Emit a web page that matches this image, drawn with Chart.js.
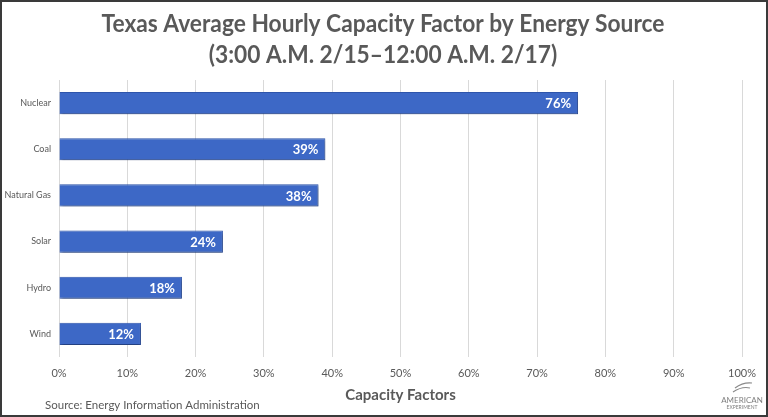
<!DOCTYPE html>
<html>
<head>
<meta charset="utf-8">
<script src="https://cdn.jsdelivr.net/npm/chart.js@4.4.0/dist/chart.umd.min.js"></script>
<style>
  html, body { margin: 0; padding: 0; background: #fff; }
  #wrap { position: relative; width: 768px; height: 417px; box-sizing: border-box; border: 2px solid #3a3a3a; }
  canvas { display: block; }
</style>
</head>
<body>
<div id="wrap"><canvas id="myChart" width="764" height="413"></canvas></div>
<script>
// Chart data
var sources = ['Nuclear', 'Coal', 'Natural Gas', 'Solar', 'Hydro', 'Wind'];
var capacityFactors = [76, 39, 38, 24, 18, 12];
var valueLabels = ['76%', '39%', '38%', '24%', '18%', '12%'];
var titleLines = ['Texas Average Hourly Capacity Factor by Energy Source', '(3:00 A.M. 2/15\u201312:00 A.M. 2/17)'];
var sourceNote = 'Source: Energy Information Administration';

var fontFamily = 'Lato, "Open Sans", sans-serif';
var gray = '#595959';

// Draws title, value labels, source note and logo text
var decorations = {
    id: 'decorations',
    beforeDatasetsDraw: function(chart) {
        var ctx = chart.ctx;
        ctx.save();
        ctx.shadowColor = 'rgba(0,0,0,0.35)';
        ctx.shadowBlur = 3;
        ctx.shadowOffsetX = 1;
        ctx.shadowOffsetY = 2;
    },
    afterDatasetsDraw: function(chart) {
        var ctx = chart.ctx;
        ctx.restore();

        // value labels inside bar ends
        var meta = chart.getDatasetMeta(0);
        ctx.save();
        ctx.font = 'bold 13px ' + fontFamily;
        ctx.fillStyle = '#ffffff';
        ctx.textAlign = 'right';
        ctx.textBaseline = 'middle';
        meta.data.forEach(function(bar, i) {
            ctx.fillText(valueLabels[i], bar.x - 7, bar.y + 1);
        });
        ctx.restore();
    },
    afterDraw: function(chart) {
        var ctx = chart.ctx;
        ctx.save();
        ctx.fillStyle = gray;
        ctx.textAlign = 'center';
        ctx.textBaseline = 'middle';
        ctx.font = 'bold 25px ' + fontFamily;
        // squeeze a little to match the narrow original face
        ctx.save();
        ctx.translate(381, 0);
        ctx.scale(0.91, 1);
        ctx.fillText(titleLines[0], 0, 22);
        ctx.fillText(titleLines[1], 0, 53);
        ctx.restore();

        ctx.textAlign = 'left';
        ctx.font = '11.5px ' + fontFamily;
        ctx.fillText(sourceNote, 43, 403);

        // small logo text
        ctx.textAlign = 'center';
        ctx.fillStyle = '#7f7f7f';
        ctx.font = '8px ' + fontFamily;
        ctx.fillText('AMERICAN', 740, 398);
        ctx.font = '5px ' + fontFamily;
        ctx.fillText('EXPERIMENT', 740, 405);
        ctx.strokeStyle = '#8a8a8a';
        ctx.lineWidth = 1.2;
        ctx.beginPath();
        ctx.moveTo(731, 390); ctx.quadraticCurveTo(740, 384, 748, 386);
        ctx.moveTo(733, 386); ctx.quadraticCurveTo(741, 380, 750, 381);
        ctx.stroke();
        ctx.restore();
    }
};

var ctx = document.getElementById('myChart').getContext('2d');

var myChart = new Chart(ctx, {
    type: 'bar',
    data: {
        labels: sources,
        datasets: [{
            data: capacityFactors,
            backgroundColor: '#3d68c6',
            borderColor: '#2f56ad',
            borderWidth: 1,
            categoryPercentage: 1,
            barPercentage: 0.48
        }]
    },
    options: {
        indexAxis: 'y',
        responsive: false,
        animation: false,
        devicePixelRatio: 1,
        layout: {
            padding: { top: 78, right: 24, bottom: 0, left: 0 }
        },
        plugins: {
            legend: { display: false },
            tooltip: { enabled: false }
        },
        scales: {
            x: {
                min: 0,
                max: 100,
                ticks: {
                    stepSize: 10,
                    color: gray,
                    font: { family: fontFamily, size: 11 },
                    padding: 10,
                    callback: function(v) { return v + '%'; }
                },
                grid: { color: '#d9d9d9', drawTicks: false },
                border: { display: false },
                title: {
                    display: true,
                    text: 'Capacity Factors',
                    color: gray,
                    font: { family: fontFamily, size: 15, weight: 'bold' },
                    padding: { top: 4, bottom: 11 }
                },
                afterFit: function(scale) { scale.height = 58; }
            },
            y: {
                ticks: {
                    color: gray,
                    font: { family: fontFamily, size: 9 },
                    padding: 8
                },
                grid: { display: false, drawTicks: false },
                border: { display: false },
                afterFit: function(scale) { scale.width = 57; }
            }
        }
    },
    plugins: [decorations]
});
</script>
</body>
</html>
